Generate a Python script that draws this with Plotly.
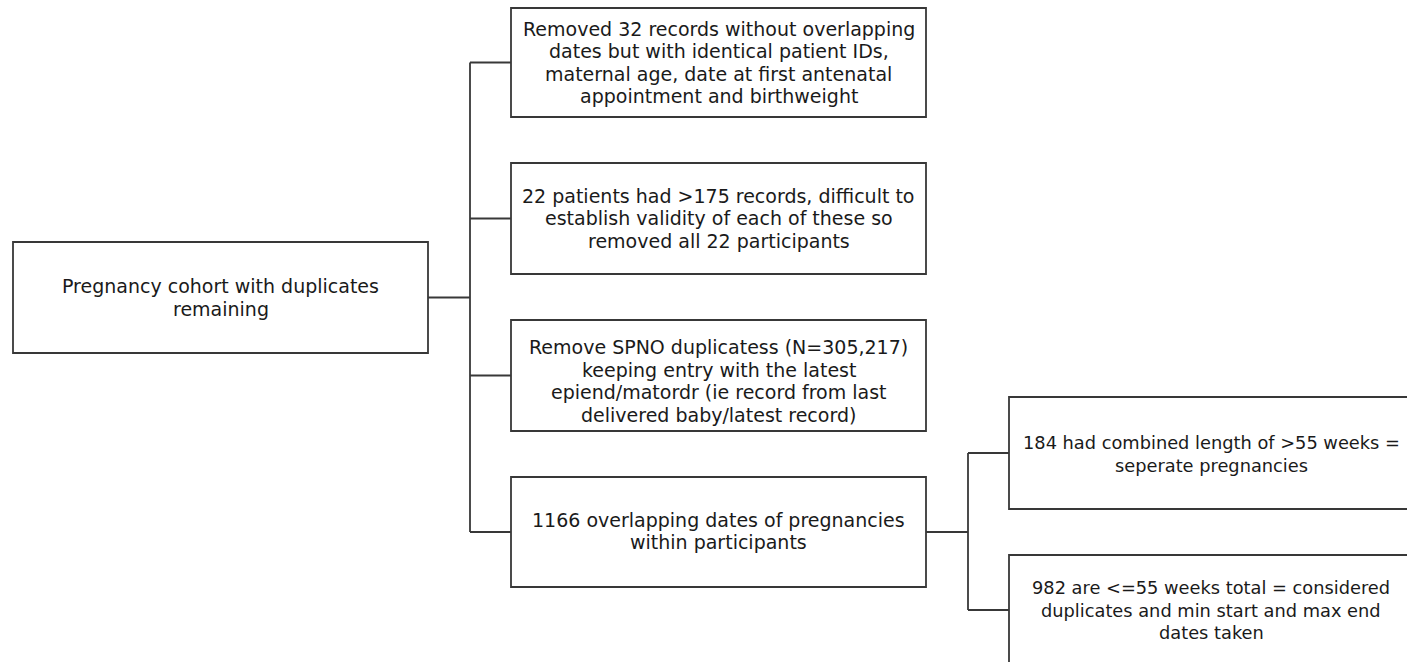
import plotly.graph_objects as go

# Box texts (content of the flowchart)
root_text = ["Pregnancy cohort with duplicates", "remaining"]
step_texts = [
    ["Removed 32 records without overlapping", "dates but with identical patient IDs,",
     "maternal age, date at first antenatal", "appointment and birthweight"],
    ["22 patients had >175 records, difficult to", "establish validity of each of these so",
     "removed all 22 participants"],
    ["Remove SPNO duplicatess (N=305,217)", "keeping entry with the latest",
     "epiend/matordr (ie record from last", "delivered baby/latest record)"],
    ["1166 overlapping dates of pregnancies", "within participants"],
]
sub_texts = [
    ["184 had combined length of >55 weeks =", "seperate pregnancies"],
    ["982 are <=55 weeks total = considered", "duplicates and min start and max end", "dates taken"],
]

# Layout geometry (page pixels)
PAGE_W, PAGE_H = 1407, 662
root_box = (13, 242, 428, 353)
root_text_y = 297.5
step_boxes = [(511, 8, 926, 117), (511, 163, 926, 274), (511, 320, 926, 431), (511, 477, 926, 587)]
step_text_y = [62.5, 218, 381, 531]
sub_boxes = [(1009, 397, 1430, 509), (1009, 555, 1430, 668)]
sub_conn_y = [453, 610]
sub_text_y = [454, 610]
sub_text_x = 1211
trunk_x = 470
sub_trunk_x = 968
LINE_GAP = 22.5

LINE = dict(color="#383838", width=1.8)
FONT = dict(family="DejaVu Sans, sans-serif", size=19, color="#1a1a1a")
SUB_FONT = dict(family="DejaVu Sans, sans-serif", size=17.8, color="#1a1a1a")

fig = go.Figure()
shapes = []
annotations = []

def box(b):
    shapes.append(dict(type="rect", xref="x", yref="y", x0=b[0], y0=b[1], x1=b[2], y1=b[3],
                       line=LINE, fillcolor="rgba(0,0,0,0)", layer="above"))

def line(x0, y0, x1, y1):
    shapes.append(dict(type="line", xref="x", yref="y", x0=x0, y0=y0, x1=x1, y1=y1, line=LINE))

def label(x, yc, lines, font=FONT):
    n = len(lines)
    for i, s in enumerate(lines):
        annotations.append(dict(x=x, y=yc + (i - (n - 1) / 2) * LINE_GAP, xref="x", yref="y",
                                text=s, showarrow=False, font=font, align="center",
                                xanchor="center", yanchor="middle"))

# root
box(root_box)
label((root_box[0] + root_box[2]) / 2, root_text_y, root_text)
root_cy = (root_box[1] + root_box[3]) / 2
line(root_box[2], root_cy, trunk_x, root_cy)

# steps
centers = []
for b, ty, t in zip(step_boxes, step_text_y, step_texts):
    box(b)
    cy = (b[1] + b[3]) / 2
    centers.append(cy)
    line(trunk_x, cy, b[0], cy)
    label((b[0] + b[2]) / 2, ty, t)
line(trunk_x, centers[0], trunk_x, centers[-1])

# sub steps from last step
last = step_boxes[-1]
last_cy = (last[1] + last[3]) / 2
line(last[2], last_cy, sub_trunk_x, last_cy)
for b, cy, ty, t in zip(sub_boxes, sub_conn_y, sub_text_y, sub_texts):
    box(b)
    line(sub_trunk_x, cy, b[0], cy)
    label(sub_text_x, ty, t, SUB_FONT)
line(sub_trunk_x, sub_conn_y[0], sub_trunk_x, sub_conn_y[-1])

fig.update_layout(
    width=PAGE_W, height=PAGE_H, margin=dict(l=0, r=0, t=0, b=0),
    paper_bgcolor="white", plot_bgcolor="white",
    xaxis=dict(range=[0, PAGE_W], visible=False, fixedrange=True),
    yaxis=dict(range=[PAGE_H, 0], visible=False, fixedrange=True),
    shapes=shapes, annotations=annotations, showlegend=False,
)
fig.write_html("out.html", config={"displayModeBar": False},
               post_script="document.body.style.margin='0';document.body.style.overflow='hidden';")
